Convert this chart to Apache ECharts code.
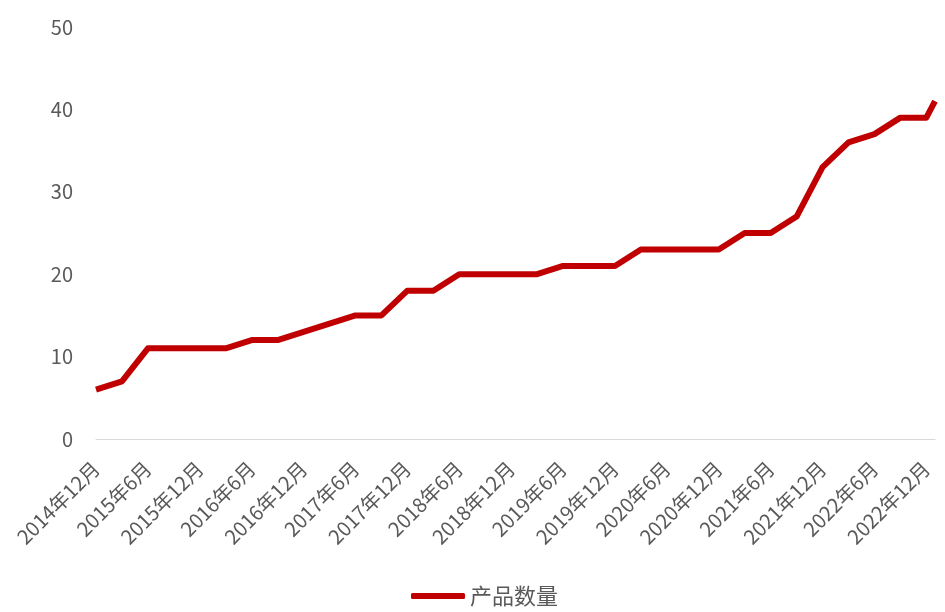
<!DOCTYPE html>
<html>
<head>
<meta charset="utf-8">
<script src="https://cdn.jsdelivr.net/npm/echarts@6/dist/echarts.min.js"></script>
<style>html,body{margin:0;padding:0;background:#fff;}#c{width:945px;height:612px;}</style>
</head>
<body>
<div id="c"></div>
<script>
// Observation dates (quarter ends plus final point) and product counts
const dates = ['2014年12月','2015年3月','2015年6月','2015年9月','2015年12月','2016年3月','2016年6月','2016年9月','2016年12月',
  '2017年3月','2017年6月','2017年9月','2017年12月','2018年3月','2018年6月','2018年9月','2018年12月',
  '2019年3月','2019年6月','2019年9月','2019年12月','2020年3月','2020年6月','2020年9月','2020年12月',
  '2021年3月','2021年6月','2021年9月','2021年12月','2022年3月','2022年6月','2022年9月','2022年12月','2023年1月'];
const counts = [6,7,11,11,11,11,12,12,13,14,15,15,18,18,20,20,20,20,21,21,21,23,23,23,23,25,25,27,33,36,37,39,39,41];
const seriesName = '产品数量';
const startYear = 2014, startMonth = 12, endYear = 2023, endMonth = 1;

// monthly category axis
const months = [];
{
  let y = startYear, m = startMonth;
  while (y < endYear || (y === endYear && m <= endMonth)) {
    months.push(y + '年' + m + '月');
    m++; if (m > 12) { m = 1; y++; }
  }
}

const font = 'Noto Sans CJK SC, Noto Sans, sans-serif';
const chart = echarts.init(document.getElementById('c'), null, {renderer: 'canvas'});
chart.setOption({
  animation: false,
  backgroundColor: '#ffffff',
  grid: {left: 96, right: 10, top: 27, bottom: 173, containLabel: false},
  xAxis: {
    type: 'category',
    data: months,
    boundaryGap: false,
    axisLine: {show: true, lineStyle: {color: '#d9d9d9', width: 1}},
    axisTick: {show: false},
    axisLabel: {interval: 5, rotate: 45, color: '#595959', fontSize: 20, fontFamily: font, margin: 26}
  },
  yAxis: {
    type: 'value',
    min: 0, max: 50, interval: 10,
    axisLine: {show: false},
    axisTick: {show: false},
    splitLine: {show: false},
    axisLabel: {color: '#595959', fontSize: 20, fontFamily: font, margin: 23}
  },
  legend: {
    left: 411, top: 585, padding: 0,
    icon: 'roundRect', itemWidth: 54, itemHeight: 6, itemGap: 10,
    textStyle: {color: '#595959', fontSize: 22, fontFamily: font},
    data: [seriesName]
  },
  series: [{
    name: seriesName,
    type: 'line',
    symbol: 'none',
    data: dates.map((d, i) => [d, counts[i]]),
    lineStyle: {color: '#c00000', width: 6, join: 'round'},
    itemStyle: {color: '#c00000'}
  }]
});
</script>
</body>
</html>
